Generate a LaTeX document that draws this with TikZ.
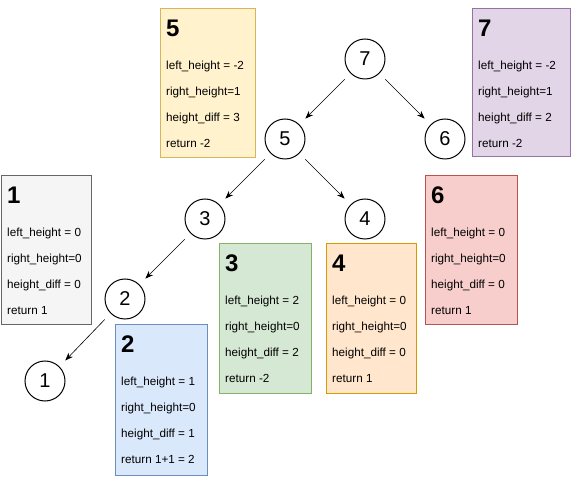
\documentclass[tikz,border=0pt]{standalone}
\usepackage{fontspec}
\setmainfont{Liberation Sans}
\usetikzlibrary{arrows.meta}
\definecolor{f5}{HTML}{FFF2CC}\definecolor{d5}{HTML}{D6B656}
\definecolor{f7}{HTML}{E1D5E7}\definecolor{d7}{HTML}{9673A6}
\definecolor{f1}{HTML}{F5F5F5}\definecolor{d1}{HTML}{666666}
\definecolor{f2}{HTML}{DAE8FC}\definecolor{d2}{HTML}{6C8EBF}
\definecolor{f3}{HTML}{D5E8D4}\definecolor{d3}{HTML}{82B366}
\definecolor{f4}{HTML}{FFE6CC}\definecolor{d4}{HTML}{D79B00}
\definecolor{f6}{HTML}{F8CECC}\definecolor{d6}{HTML}{B85450}
\tikzset{
  tnode/.style={circle,draw=black,line width=1pt,minimum size=40pt,inner sep=0pt,font=\fontsize{20}{24}\selectfont},
  arr/.style={-{Stealth[length=8pt,width=6pt]},line width=0.6pt,shorten <=8.3pt,shorten >=8.3pt},
  ibox/.style={draw,line width=1pt,inner sep=0pt},
  btitle/.style={anchor=base west,inner sep=0pt,font=\fontsize{24}{28}\selectfont\bfseries},
  bline/.style={anchor=base west,inner sep=0pt,font=\fontsize{11.7}{14}\selectfont}
}
\newcommand\infobox[9]{%
  % #1 name, #2 left, #3 top, #4 right, #5 bottom, #6 fill, #7 draw, #8 title, #9 lines
  \path[ibox,fill=#6,draw=#7] (#2,#3) rectangle (#4,#5);
  \node[btitle] (#1t) at (#2+6,#3+28) {#8};
  \foreach \txt [count=\i] in {#9} {
    \node[bline] (#1l\i) at (#2+6,#3+35+26*\i) {\txt};
  }
}
\begin{document}
\begin{tikzpicture}[x=1pt,y=-1pt]
\useasboundingbox (0,0) rectangle (576,478);
\fill[white] (0,0) rectangle (576,478);

\infobox{b5}{160}{9}{255}{158}{f5}{d5}{5}{left\_height = -2,right\_height=1,height\_diff = 3,return -2}
\infobox{b7}{472}{9}{570}{157}{f7}{d7}{7}{left\_height = -2,right\_height=1,height\_diff = 2,return -2}
\infobox{b1}{1}{176}{91}{325}{f1}{d1}{1}{left\_height = 0,right\_height=0,height\_diff = 0,return 1}
\infobox{b6}{425}{176}{517}{325}{f6}{d6}{6}{left\_height = 0,right\_height=0,height\_diff = 0,return 1}
\infobox{b3}{219}{244}{311}{394}{f3}{d3}{3}{left\_height = 2,right\_height=0,height\_diff = 2,return -2}
\infobox{b4}{326}{244}{416}{394}{f4}{d4}{4}{left\_height = 0,right\_height=0,height\_diff = 0,return 1}
\infobox{b2}{115}{325}{207}{475}{f2}{d2}{2}{left\_height = 1,right\_height=0,height\_diff = 1,return 1+1 = 2}

\node[tnode] (n7) at (365,59) {7};
\node[tnode] (n5) at (285,139) {5};
\node[tnode] (n6) at (445,139) {6};
\node[tnode] (n3) at (205,219) {3};
\node[tnode] (n4) at (365,219) {4};
\node[tnode] (n2) at (125,299) {2};
\node[tnode] (n1) at (45,381) {1};

\draw[arr] (n7.south west) -- (n5.north east);
\draw[arr] (n7.south east) -- (n6.north west);
\draw[arr] (n5.south west) -- (n3.north east);
\draw[arr] (n5.south east) -- (n4.north west);
\draw[arr] (n3.south west) -- (n2.north east);
\draw[arr] (n2.south west) -- (n1.north east);
\end{tikzpicture}
\end{document}
